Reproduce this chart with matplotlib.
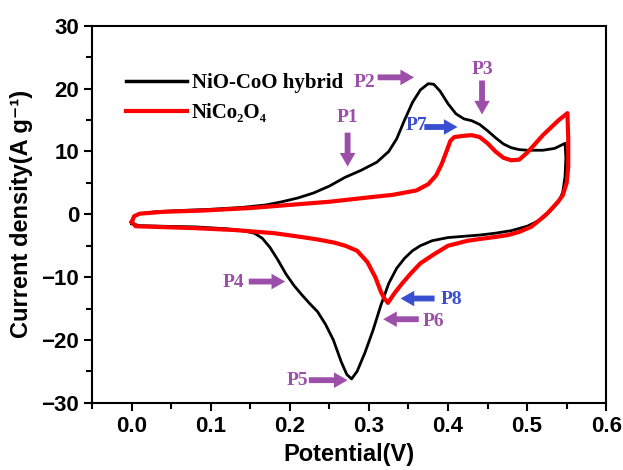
import numpy as np
import matplotlib
matplotlib.use("Agg")
import matplotlib.pyplot as plt
from matplotlib.lines import Line2D

# CV loops: anodic sweep 0 -> 0.55 V, then cathodic back to 0
hyb_v = [0.000, 0.003, 0.01, 0.03, 0.06, 0.10, 0.14, 0.17, 0.19, 0.21, 0.23, 0.25, 0.27,
         0.29, 0.31, 0.325, 0.335, 0.345, 0.355, 0.365, 0.375, 0.382, 0.39, 0.40, 0.41,
         0.42, 0.43, 0.44, 0.45, 0.46, 0.47, 0.48, 0.49, 0.50, 0.52, 0.535, 0.548,
         0.549, 0.548, 0.545, 0.54, 0.53, 0.52, 0.51, 0.50, 0.48, 0.46, 0.44, 0.42, 0.40,
         0.38, 0.365, 0.355, 0.345, 0.335, 0.325, 0.315, 0.305, 0.295, 0.285, 0.278,
         0.272, 0.265, 0.255, 0.245, 0.235, 0.225, 0.215, 0.205, 0.195, 0.185, 0.175,
         0.165, 0.155, 0.14, 0.12, 0.08, 0.04, 0.01, 0.0]
hyb_j = [-1.5, -0.4, 0.1, 0.4, 0.6, 0.8, 1.1, 1.5, 2.0, 2.6, 3.4, 4.5, 5.9,
         7.0, 8.3, 10.0, 12.0, 15.0, 17.8, 19.8, 20.8, 20.7, 19.6, 17.6, 16.0,
         15.2, 14.9, 14.3, 13.3, 12.2, 11.2, 10.6, 10.3, 10.2, 10.2, 10.5, 11.3,
         9.0, 6.0, 3.5, 2.0, 0.6, -0.6, -1.3, -1.9, -2.6, -3.0, -3.3, -3.5, -3.7,
         -4.2, -5.0, -5.8, -7.0, -8.6, -11.0, -14.5, -18.5, -22.0, -25.0, -26.2,
         -25.5, -23.5, -20.0, -17.5, -15.5, -14.2, -12.8, -11.3, -9.5, -7.3, -5.3,
         -3.8, -3.0, -2.6, -2.3, -2.0, -1.9, -1.8, -1.5]

nco_v = [0.0, 0.003, 0.01, 0.04, 0.09, 0.15, 0.20, 0.25, 0.30, 0.33, 0.36, 0.375, 0.385,
         0.392, 0.398, 0.403, 0.408, 0.42, 0.43, 0.44, 0.45, 0.46, 0.47, 0.48, 0.49,
         0.50, 0.51, 0.52, 0.53, 0.54, 0.551,
         0.552, 0.552, 0.55, 0.545, 0.539, 0.526, 0.515, 0.505, 0.49, 0.476, 0.46,
         0.442, 0.425, 0.40, 0.383, 0.365, 0.353, 0.342, 0.332, 0.324, 0.319, 0.315,
         0.308, 0.298, 0.285, 0.27, 0.256, 0.235, 0.214, 0.18, 0.13, 0.08, 0.03,
         0.005, 0.0]
nco_j = [-1.2, -0.3, 0.1, 0.4, 0.6, 1.0, 1.5, 2.0, 2.7, 3.1, 3.8, 4.8, 6.2,
         8.0, 10.0, 11.7, 12.3, 12.5, 12.6, 12.3, 11.3, 10.0, 9.0, 8.6, 8.7,
         9.8, 11.2, 12.6, 13.8, 15.0, 16.1,
         12.0, 7.5, 5.0, 3.0, 2.0, 0.2, -1.0, -2.0, -2.8, -3.3, -3.6,
         -3.9, -4.2, -5.0, -6.3, -7.8, -9.4, -11.0, -12.6, -14.1, -13.3, -12.3,
         -10.0, -7.6, -5.8, -5.0, -4.5, -4.0, -3.6, -3.0, -2.5, -2.2, -2.0,
         -1.9, -1.2]

# peak labels: name, colour key, text position, arrow tail, arrow head
peak_names = ["P1", "P2", "P3", "P7", "P4", "P5", "P6", "P8"]
peak_kind = ["p", "p", "p", "b", "p", "p", "p", "b"]
peak_text = [(0.273, 15.4), (0.294, 21.0), (0.444, 23.1), (0.360, 14.1),
             (0.129, -10.8), (0.210, -26.4), (0.382, -17.0), (0.404, -13.5)]
arrow_from = [(0.273, 13.0), (0.311, 21.8), (0.443, 21.3), (0.370, 13.9),
              (0.148, -10.7), (0.224, -26.4), (0.363, -16.7), (0.383, -13.4)]
arrow_to = [(0.273, 7.6), (0.357, 21.8), (0.443, 15.9), (0.412, 13.9),
            (0.194, -10.7), (0.273, -26.4), (0.318, -16.7), (0.340, -13.4)]

purple = "#9c4fa8"
blue = "#3a4ed2"

fig = plt.figure(figsize=(6.23, 4.70), dpi=100)
ax = fig.add_axes([0.148, 0.143, 0.825, 0.802])

ax.plot(hyb_v, hyb_j, color="black", lw=2.0, solid_joinstyle="round")
ax.plot(nco_v, nco_j, color="#ff0000", lw=3.0, solid_joinstyle="round")

for name, kind, t, a0, a1 in zip(peak_names, peak_kind, peak_text, arrow_from, arrow_to):
    c = purple if kind == "p" else blue
    ax.text(t[0], t[1], name, color=c, fontsize=14, fontweight="bold",
            family="Liberation Serif", ha="center", va="center")
    ax.annotate("", xy=a1, xytext=a0,
                arrowprops=dict(arrowstyle="simple,head_length=0.7,head_width=0.8,tail_width=0.3",
                                color=c, lw=0, shrinkA=0, shrinkB=0, mutation_scale=14))

ax.set_xlim(-0.05, 0.6)
ax.set_ylim(-30, 30)
ax.set_xticks(np.arange(0.0, 0.61, 0.1))
ax.set_xticks(np.arange(-0.05, 0.61, 0.05), minor=True)
ax.set_yticks(np.arange(-30, 31, 10))
ax.set_yticks(np.arange(-30, 31, 5), minor=True)
ax.tick_params(which="both", direction="out", top=False, right=False, width=1.5)
ax.tick_params(which="major", length=6)
ax.tick_params(which="minor", length=4)
for lab in ax.get_xticklabels() + ax.get_yticklabels():
    lab.set_family("Liberation Sans")
    lab.set_fontweight("bold")
    lab.set_fontsize(16)
for s in ax.spines.values():
    s.set_linewidth(1.5)

ax.set_xlabel("Potential(V)", fontsize=17, fontweight="bold", family="Liberation Sans", labelpad=4)
ax.set_ylabel("Current density(A g\u207b\u00b9)", fontsize=17, fontweight="bold",
              family=["Liberation Sans", "DejaVu Sans"], labelpad=6)

handles = [Line2D([], [], color="black", lw=2.5), Line2D([], [], color="#ff0000", lw=3)]
ax.legend(handles, ["NiO-CoO hybrid", "NiCo\u2082O\u2084"], loc="upper left",
          bbox_to_anchor=(0.03, 0.925), frameon=False, handlelength=2.9, handletextpad=0.25,
          labelspacing=0.5, prop=dict(family=["Liberation Serif", "DejaVu Serif"],
                                      weight="bold", size=15))

fig.savefig("out.png", dpi=100)
